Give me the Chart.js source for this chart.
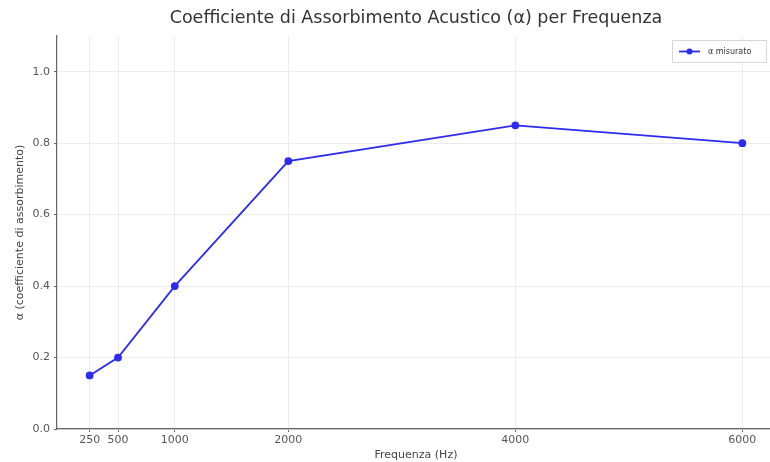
<!DOCTYPE html>
<html>
<head>
<meta charset="utf-8">
<script src="https://cdn.jsdelivr.net/npm/chart.js@4.4.1/dist/chart.umd.min.js"></script>
<style>
  html, body { margin: 0; padding: 0; background: #fff; overflow: hidden; }
  #wrap { width: 780px; height: 462px; }
</style>
</head>
<body>
<div id="wrap"><canvas id="line-chart" width="780" height="462"></canvas></div>
<script>
// Chart Data
var frequencies = [250, 500, 1000, 2000, 4000, 6000];
var alphaValues = [0.15, 0.20, 0.40, 0.75, 0.85, 0.80];
var xTicks = [250, 500, 1000, 2000, 4000, 6000];
var yTicks = [0.0, 0.2, 0.4, 0.6, 0.8, 1.0];
var seriesLabel = "α misurato";

var lineColor = "#2b2bf2";

// legend drawn inside the plot, top right
var legendBox = {
    id: "legendBox",
    afterDraw: function (chart) {
        var ctx = chart.ctx;
        var x = 672, y = 40, w = 94, h = 22;
        ctx.save();
        ctx.fillStyle = "rgba(255,255,255,0.85)";
        ctx.strokeStyle = "#d6d6d6";
        ctx.lineWidth = 1;
        ctx.beginPath();
        ctx.rect(x + 0.5, y + 0.5, w, h);
        ctx.fill();
        ctx.stroke();
        ctx.strokeStyle = lineColor;
        ctx.lineWidth = 1.8;
        ctx.beginPath();
        ctx.moveTo(x + 7, y + 11.5);
        ctx.lineTo(x + 28, y + 11.5);
        ctx.stroke();
        ctx.fillStyle = lineColor;
        ctx.beginPath();
        ctx.arc(x + 17.5, y + 11.5, 3, 0, Math.PI * 2);
        ctx.fill();
        ctx.fillStyle = "#333";
        ctx.font = "8px 'DejaVu Sans'";
        ctx.textBaseline = "middle";
        ctx.fillText(seriesLabel, x + 36, y + 12);
        ctx.restore();
    }
};

var chartData = {
    datasets: [{
        label: seriesLabel,
        data: frequencies.map(function (f, i) { return { x: f, y: alphaValues[i] }; }),
        borderColor: lineColor,
        backgroundColor: lineColor,
        borderWidth: 1.8,
        pointRadius: 3,
        pointHoverRadius: 3,
        tension: 0
    }]
};

var chartOptions = {
    responsive: false,
    animation: false,
    layout: { padding: { left: 0, right: 5, top: 0, bottom: 0 } },
    plugins: {
        legend: { display: false },
        tooltip: { enabled: false },
        title: {
            display: true,
            fullSize: false,
            text: "Coefficiente di Assorbimento Acustico (α) per Frequenza",
            color: "#333",
            font: { family: "'DejaVu Sans'", size: 17.5, weight: "normal" },
            padding: { top: 8, bottom: 7 }
        }
    },
    scales: {
        x: {
            type: "linear",
            min: -37.5,
            max: 6287.5,
            afterBuildTicks: function (axis) {
                axis.ticks = xTicks.map(function (v) { return { value: v }; });
            },
            afterFit: function (axis) { axis.height = 33; },
            ticks: {
                color: "#555",
                font: { family: "'DejaVu Sans'", size: 11 },
                padding: 2,
                maxRotation: 0,
                autoSkip: false,
                callback: function (v) { return String(v); }
            },
            grid: { color: "#ececec", tickColor: "#666", tickLength: 3 },
            border: { color: "#666", width: 1.2 },
            title: {
                display: true,
                text: "Frequenza (Hz)",
                color: "#444",
                font: { family: "'DejaVu Sans'", size: 11 },
                padding: { top: 1, bottom: 0 }
            }
        },
        y: {
            min: 0,
            max: 1.1,
            afterBuildTicks: function (axis) {
                axis.ticks = yTicks.map(function (v) { return { value: v }; });
            },
            afterFit: function (axis) { axis.width = 57; },
            ticks: {
                color: "#555",
                font: { family: "'DejaVu Sans'", size: 11 },
                padding: 4,
                callback: function (v) { return v.toFixed(1); }
            },
            grid: { color: "#ececec", tickColor: "#666", tickLength: 3 },
            border: { color: "#666", width: 1.2 },
            title: {
                display: true,
                text: "α (coefficiente di assorbimento)",
                color: "#444",
                font: { family: "'DejaVu Sans'", size: 11 },
                padding: { top: 14, bottom: 0 }
            }
        }
    }
};

var config = {
    type: "line",
    data: chartData,
    options: chartOptions,
    plugins: [legendBox]
};

// Create the chart
var ctx = document.getElementById("line-chart");
var alphaChart = new Chart(ctx, config);
</script>
</body>
</html>
